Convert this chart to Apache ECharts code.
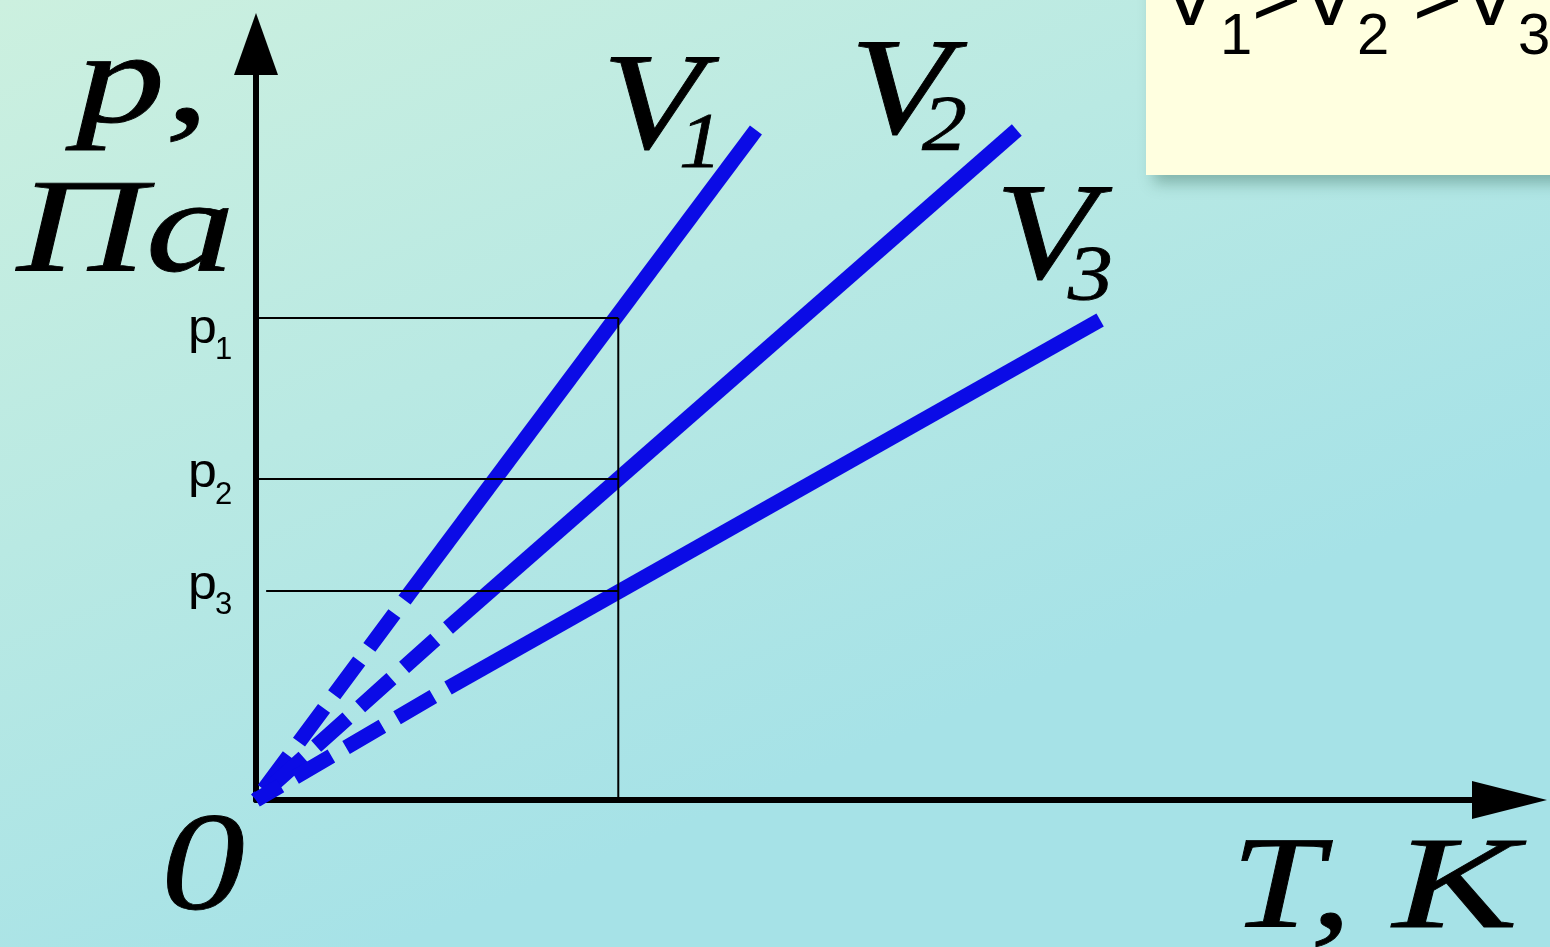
<!DOCTYPE html>
<html>
<head>
<meta charset="utf-8">
<title>p(T) isochores</title>
<script src="https://cdn.jsdelivr.net/npm/echarts@6/dist/echarts.min.js"></script>
<style>
  html, body { margin: 0; padding: 0; overflow: hidden; }
  #chart { width: 1550px; height: 947px; }
</style>
</head>
<body>
<div id="chart"></div>
<script>
// Temperature T and pressure p in arbitrary units.
const T0 = 1.0;                              // temperature of the vertical guide
const pLevels = [4.82, 3.21, 2.09];          // p1, p2, p3 read at T0
const guideStartT = [-0.017, -0.017, 0.028]; // where each horizontal guide begins
const levelNames = ['1', '2', '3'];

// Dashed extrapolation of each isochore towards the origin (drawn from the
// solid part downwards so the dash pattern lines up with the solid start).
const isoDashed = [
  [[0.41, 2.00], [0, 0]],
  [[0.53, 1.72], [0, 0]],
  [[0.53, 1.12], [0, 0]]
];
// Solid part of each isochore.
const isoSolid = [
  [[0.41, 2.00], [1.38, 6.70]],
  [[0.53, 1.72], [2.10, 6.70]],
  [[0.53, 1.12], [2.33, 4.80]]
];
const tMax = 3.46;
const pMax = 7.56;

const BLUE = '#0b0be6';
const SERIF = '"Liberation Serif", "Times New Roman", serif';
const SANS = '"Liberation Sans", Arial, sans-serif';

const series = [];
isoDashed.forEach(function (pts) {
  series.push({
    type: 'line', data: pts, symbol: 'none', silent: true, z: 3,
    lineStyle: { color: BLUE, width: 15, type: [42, 17], dashOffset: 42, cap: 'butt' }
  });
});
isoSolid.forEach(function (pts) {
  series.push({
    type: 'line', data: pts, symbol: 'none', silent: true, z: 3,
    lineStyle: { color: BLUE, width: 15, cap: 'butt' }
  });
});
// Horizontal guides from the p axis to T0, and the vertical guide at T0.
pLevels.forEach(function (p, i) {
  series.push({
    type: 'line', data: [[guideStartT[i], p], [T0, p]], symbol: 'none', silent: true,
    clip: false, z: 5, lineStyle: { color: '#000', width: 2 }
  });
});
series.push({
  type: 'line', data: [[T0, 0], [T0, pLevels[0]]], symbol: 'none', silent: true,
  clip: false, z: 5, lineStyle: { color: '#000', width: 2 }
});

// Sans text: x is the left edge, y the vertical middle of the text line.
function sans(str, x, y, size, sx) {
  return {
    type: 'text', x: x, y: y, z: 20, silent: true, scaleX: sx || 1,
    style: { text: str, fill: '#000', align: 'left', verticalAlign: 'middle',
      font: size + 'px ' + SANS }
  };
}
// Italic serif text, widened and given a slightly heavier outline.
function serif(str, x, y, size, sx) {
  return {
    type: 'text', x: x, y: y, z: 20, silent: true, scaleX: sx || 1.2,
    style: { text: str, fill: '#000', stroke: '#000', lineWidth: 0.8,
      align: 'left', verticalAlign: 'middle',
      font: 'italic ' + size + 'px ' + SERIF }
  };
}

const pLabelPos = [[188, 330, 350], [188, 474, 495], [188, 586, 605]];

const graphics = [
  // note box in the top right corner
  {
    type: 'rect', z: 10, silent: true,
    shape: { x: 1146, y: -20, width: 430, height: 195 },
    style: { fill: '#ffffe0', shadowBlur: 14, shadowOffsetX: 8, shadowOffsetY: 8, shadowColor: 'rgba(30,80,60,0.35)' }
  },
  sans('V', 1162, 2, 84),
  sans('1', 1220, 38, 58),
  sans('>', 1252, 2, 84),
  sans('V', 1301, 2, 84),
  sans('2', 1357, 38, 58),
  sans('>', 1413, 2, 84),
  sans('V', 1462, 2, 84),
  sans('3', 1518, 38, 58),
  // axis titles and origin
  serif('p,', 76, 87, 132, 1.35),
  serif('Па', 17, 236, 134, 1.33),
  serif('0', 161, 872, 140, 1.2),
  serif('T,', 1231, 892, 132, 1.25),
  serif('K', 1393, 892, 132, 1.42),
  // isochore names
  serif('V', 602, 112, 138, 1.2),
  serif('1', 679, 145, 78, 1.1),
  serif('V', 850, 97, 138, 1.2),
  serif('2', 922, 128, 78, 1.15),
  serif('V', 995, 242, 138, 1.2),
  serif('3', 1068, 278, 78, 1.15)
];
pLabelPos.forEach(function (pos, i) {
  graphics.push(sans('p', pos[0], pos[1], 48, 1.08));
  graphics.push(sans(levelNames[i], pos[0] + 27, pos[2], 31));
});

const axisCommon = {
  type: 'value', min: 0,
  axisTick: { show: false }, axisLabel: { show: false }, splitLine: { show: false }
};

const option = {
  animation: false,
  backgroundColor: {
    type: 'linear', x: 0, y: 0, x2: 0.25, y2: 1,
    colorStops: [{ offset: 0, color: '#ccf0df' }, { offset: 1, color: '#a6e2e7' }]
  },
  grid: { left: 256, top: 44, right: 40.5, bottom: 147, containLabel: false },
  xAxis: Object.assign({}, axisCommon, {
    max: tMax,
    axisLine: { show: true, onZero: false, symbol: ['none', 'triangle'], symbolSize: [38, 75],
      lineStyle: { color: '#000', width: 6 } }
  }),
  yAxis: Object.assign({}, axisCommon, {
    max: pMax,
    axisLine: { show: true, onZero: false, symbol: ['none', 'triangle'], symbolSize: [44, 62],
      lineStyle: { color: '#000', width: 6 } }
  }),
  series: series,
  graphic: graphics
};

const chart = echarts.init(document.getElementById('chart'), null, { renderer: 'canvas' });
chart.setOption(option);
</script>
</body>
</html>
